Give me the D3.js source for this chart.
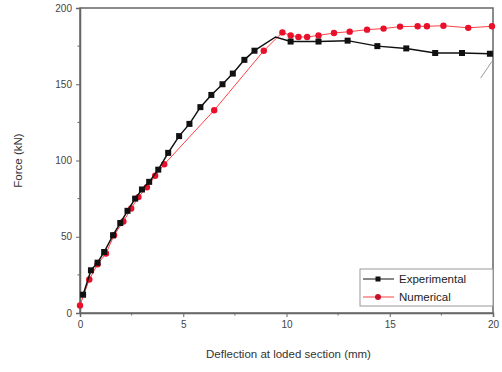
<!DOCTYPE html>
<html>
<head>
<meta charset="utf-8">
<script src="https://cdn.jsdelivr.net/npm/d3@7"></script>
<style>
  body { margin: 0; background: #fff; }
  text { font-family: Arial, "Liberation Sans", sans-serif; }
</style>
</head>
<body>
<div id="chart"></div>
<script>
// deflection (mm), force (kN)
const experimental = [
  [0.15, 12], [0.53, 28], [0.85, 33], [1.17, 40], [1.6, 51], [1.95, 59], [2.3, 67],
  [2.67, 75], [3.0, 81], [3.35, 86], [3.79, 94], [4.27, 105], [4.8, 116], [5.3, 124],
  [5.83, 135], [6.36, 143], [6.9, 150], [7.4, 157], [7.96, 166], [8.45, 172],
  [9.47, 181], [10.2, 178], [11.55, 178], [12.96, 178.6], [14.4, 175], [15.8, 173.5],
  [17.2, 170.5], [18.5, 170.5], [19.85, 170]
];
const expMarked = experimental.filter(d => d[0] !== 9.47);
const expTail = [[19.95, 165], [19.4, 154]];

const numerical = [
  [0.0, 5], [0.45, 22], [0.85, 32], [1.26, 39], [1.65, 51], [2.1, 60], [2.48, 68.5],
  [2.83, 76], [3.24, 82.5], [3.64, 90], [4.08, 97.5], [6.5, 133], [8.9, 172],
  [9.8, 184], [10.2, 182], [10.58, 181], [11.0, 181], [11.55, 182], [12.3, 183.6],
  [13.06, 184.5], [13.9, 185.8], [14.7, 186.5], [15.5, 187.8], [16.35, 188],
  [16.8, 188], [17.6, 188.4], [18.8, 187], [19.95, 188]
];

const xTicks = [0, 5, 10, 15, 20];
const yTicks = [0, 50, 100, 150, 200];
const xMinor = [2.5, 7.5, 12.5, 17.5];
const yMinor = [25, 75, 125, 175];

const width = 502, height = 372;
const margin = { top: 8, right: 9, bottom: 59, left: 80 };

const x = d3.scaleLinear().domain([0, 20]).range([margin.left, width - margin.right]);
const y = d3.scaleLinear().domain([0, 200]).range([height - margin.bottom, margin.top]);

const svg = d3.select("#chart").append("svg")
  .attr("width", width)
  .attr("height", height);

const axisColor = "#666";

// frame
svg.append("rect")
  .attr("x", x(0)).attr("y", y(200))
  .attr("width", x(20) - x(0)).attr("height", y(0) - y(200))
  .attr("fill", "none").attr("stroke", axisColor).attr("stroke-width", 1.5);

// axes
const xAxis = svg.append("g")
  .attr("transform", `translate(0, ${y(0)})`)
  .call(d3.axisBottom(x).tickValues(xTicks).tickSize(4).tickPadding(4).tickFormat(d3.format("d")));
const yAxis = svg.append("g")
  .attr("transform", `translate(${x(0)}, 0)`)
  .call(d3.axisLeft(y).tickValues(yTicks).tickSize(4).tickPadding(4).tickFormat(d3.format("d")));

[xAxis, yAxis].forEach(g => {
  g.select(".domain").attr("stroke", axisColor).attr("stroke-width", 1.5);
  g.selectAll(".tick line").attr("stroke", axisColor);
  g.selectAll(".tick text").attr("fill", "#444").attr("font-size", 10);
});

svg.append("g").selectAll("line").data(xMinor).join("line")
  .attr("x1", d => x(d)).attr("x2", d => x(d))
  .attr("y1", y(0)).attr("y2", y(0) + 2.5)
  .attr("stroke", axisColor);
svg.append("g").selectAll("line").data(yMinor).join("line")
  .attr("x1", x(0) - 2.5).attr("x2", x(0))
  .attr("y1", d => y(d)).attr("y2", d => y(d))
  .attr("stroke", axisColor);

// axis titles
svg.append("text")
  .attr("x", (x(0) + x(20)) / 2 + 2).attr("y", 358)
  .attr("text-anchor", "middle").attr("font-size", 11.5).attr("fill", "#333")
  .text("Deflection at loded section (mm)");
svg.append("text")
  .attr("transform", `translate(22, ${(y(0) + y(200)) / 2}) rotate(-90)`)
  .attr("text-anchor", "middle").attr("font-size", 11.5).attr("fill", "#333")
  .text("Force (kN)");

const line = d3.line().x(d => x(d[0])).y(d => y(d[1]));

// numerical (red)
svg.append("path").datum(numerical)
  .attr("d", line).attr("fill", "none")
  .attr("stroke", "#ff4040").attr("stroke-width", 1);
svg.append("g").selectAll("circle").data(numerical).join("circle")
  .attr("cx", d => x(d[0])).attr("cy", d => y(d[1])).attr("r", 3.2)
  .attr("fill", "#e8102a");

// experimental (black)
svg.append("path").datum(experimental)
  .attr("d", line).attr("fill", "none")
  .attr("stroke", "#111").attr("stroke-width", 1.5);
svg.append("path").datum(expTail)
  .attr("d", line).attr("fill", "none")
  .attr("stroke", "#999").attr("stroke-width", 1);
svg.append("g").selectAll("rect").data(expMarked).join("rect")
  .attr("x", d => x(d[0]) - 3).attr("y", d => y(d[1]) - 3)
  .attr("width", 6).attr("height", 6)
  .attr("fill", "#111");

// legend
const lg = svg.append("g").attr("transform", "translate(360, 269)");
lg.append("rect").attr("width", x(20) - 360).attr("height", 37)
  .attr("fill", "#fff").attr("stroke", "#999");
lg.append("line").attr("x1", 3).attr("x2", 34).attr("y1", 10).attr("y2", 10)
  .attr("stroke", "#111").attr("stroke-width", 1);
lg.append("rect").attr("x", 15.5).attr("y", 7.5).attr("width", 5).attr("height", 5).attr("fill", "#111");
lg.append("text").attr("x", 39).attr("y", 14).attr("font-size", 11.5).attr("fill", "#222").text("Experimental");
lg.append("line").attr("x1", 3).attr("x2", 34).attr("y1", 28).attr("y2", 28)
  .attr("stroke", "#ff4040").attr("stroke-width", 1);
lg.append("circle").attr("cx", 18).attr("cy", 28).attr("r", 3).attr("fill", "#c8102a");
lg.append("text").attr("x", 39).attr("y", 32).attr("font-size", 11.5).attr("fill", "#222").text("Numerical");
</script>
</body>
</html>
